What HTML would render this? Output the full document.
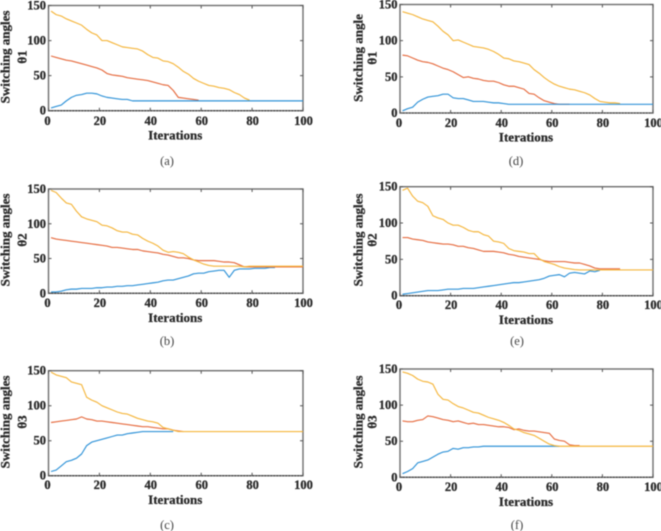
<!DOCTYPE html>
<html>
<head>
<meta charset="utf-8">
<title>Switching angles vs iterations</title>
<style>
html,body{margin:0;padding:0;background:#fff;width:661px;height:531px;overflow:hidden}
svg{display:block;position:absolute;left:0;top:0;filter:blur(0.4px)}
text{font-family:"Liberation Serif","DejaVu Serif",serif}
.tick{font-size:12.5px;font-weight:bold;fill:#2a2a2a;stroke:#2a2a2a;stroke-width:.3px}
.label{font-size:13px;font-weight:bold;fill:#2a2a2a;stroke:#2a2a2a;stroke-width:.3px}
.cap{font-size:12.5px;fill:#444}
</style>
</head>
<body>
<svg id="figure" width="661" height="531" viewBox="0 0 661 531" xmlns="http://www.w3.org/2000/svg"></svg>
<script>
const iterations = [1,3,5,7,9,11,13,15,17,19,21,23,25,27,29,31,33,35,37,39,41,43,45,47,49,51,53,55,57,59,61,63,65,67,69,71,73,75,77,79,81,83,85,87,89,91,93,95,97,99,100];
const xTicks = [0,20,40,60,80,100];
const yTicks = [0,50,100,150];

const aBlue = [4,6,8,14,19,22,23,25,25,24,21,19,18,17,16,16,14,14,14,14,14,14,14,14,14,14,14,14,14,14,14,14,14,14,14,14,14,14,14,14,14,14,14,14,14,14,14,14,14,14,14];
const aRed = [78,76,74,72,71,69,67,65,63,61,58,53,51,50,49,47,46,45,44,43,41,39,37,36,29,19,18,17,16,15];
const aYellow = [142,137,135,131,128,125,122,116,111,108,100,100,97,94,91,90,89,88,85,80,76,75,71,70,67,62,56,52,46,42,39,36,35,33,32,30,26,23,18,15];

const dBlue = [3,6,8,15,19,22,23,24,26,26,21,20,20,18,16,16,16,15,14,14,13,12,12,12,12,12,12,12,12,12,12,12,12,12,12,12,12,12,12,12,12,12,12,12,12,12,12,12,12,12,12];
const dRed = [80,79,76,73,71,70,68,65,62,60,57,53,49,50,48,47,45,44,44,42,39,37,37,35,33,27,26,21,17,15,13,12,12,12];
const dYellow = [140,138,136,133,130,128,126,120,113,108,100,101,98,95,92,91,90,88,85,81,76,75,72,71,69,67,60,55,49,44,40,37,35,33,32,30,28,25,20,16,15,14,14,13];

const bBlue = [2,2,3,5,6,6,7,7,7,8,8,9,9,10,10,11,11,12,13,14,15,16,18,19,19,21,23,25,28,29,29,31,32,33,33,23,33,35,35,35,36,36,36,37,37];
const bRed = [80,78,77,76,75,74,73,72,71,70,69,68,66,66,65,64,63,63,61,60,59,58,56,55,53,51,51,50,48,47,47,47,47,46,45,45,44,41,38,38,38,38,38,38,38,38,38,38,38,38,38];
const bYellow = [148,145,137,130,128,118,110,107,105,103,98,97,94,90,88,88,85,84,79,75,72,68,62,59,60,59,57,52,48,45,42,40,39,39,39,39,39,39,38,39,39,39,39,39,39,39,39,39,39,39,39];

const eBlue = [2,3,4,5,6,7,7,7,8,9,9,9,10,10,10,11,12,13,14,15,16,17,18,18,19,20,21,22,24,27,28,29,26,31,32,31,30,34,33,35];
const eRed = [80,80,78,77,76,74,73,72,71,71,70,68,68,66,65,63,61,61,61,60,59,57,56,54,53,52,51,50,48,47,47,47,47,46,45,45,43,41,38,37,37,37,37,37];
const eYellow = [145,148,137,130,128,123,110,107,105,100,97,97,94,90,88,88,84,82,75,74,72,65,62,61,60,58,58,51,47,45,43,40,38,37,36,35.5,35.5,35.5,35.5,35.5,35.5,35.5,35.5,35.5,35.5,35.5,35.5,35.5,35.5,35.5,35.5];

const cBlue = [6,8,14,20,22,25,31,43,48,50,52,54,56,58,58,60,61,62,63,63,63,63,63,63,63];
const cRed = [76,77,78,79,80,81,84,81,80,78,78,77,76,75,74,73,72,71,70,70,69,68,67,67,65,64,63];
const cYellow = [148,144,142,140,134,132,130,112,108,105,100,97,94,91,89,88,85,82,80,78,77,75,69,67,65,63,63,63,63,63,63,63,63,63,63,63,63,63,63,63,63,63,63,63,63,63,63,63,63,63,63];

const fBlue = [5,8,12,20,22,24,28,32,35,36,40,39,41,41,42,42,43,43,43,43,43,43,43,43,43,43,43,43,43,43,43,43];
const fRed = [78,77,77,79,80,85,84,82,80,79,77,78,76,74,75,73,73,72,71,70,70,69,66,67,65,64,64,63,62,61,53,51,50,45,44,44];
const fYellow = [146,144,141,136,133,132,129,115,108,107,102,98,96,93,90,89,86,83,81,79,76,72,67,65,62,60,58,54,50,46,44,43,43,43,43,43,43,43,43,43,43,43,43,43,43,43,43,43,43,43,43];

const BLUE = '#3093d8', RED = '#e66c40', YELLOW = '#f5b63c';
const NS = 'http://www.w3.org/2000/svg';
const root = document.getElementById('figure');

function make(tag, attrs, parent, txt) {
  const el = document.createElementNS(NS, tag);
  for (const k in attrs) el.setAttribute(k, attrs[k]);
  if (txt !== undefined) el.textContent = txt;
  parent.appendChild(el);
  return el;
}

const panels = [
  {id:'a', x0:48.5, x1:303, top:5.5,  bottom:110.7, ylab:['Switching angles','θ1'], lx:[5,22],   ly:57,  tickY:121, titleY:135.5, capX:167, capY:161, series:[[aYellow,YELLOW],[aRed,RED],[aBlue,BLUE]]},
  {id:'d', x0:400,  x1:653, top:4.5,  bottom:113,   ylab:['Switching angle','θ1'],  lx:[358,372],ly:58,  tickY:123, titleY:137.5, capX:516, capY:161, series:[[dYellow,YELLOW],[dRed,RED],[dBlue,BLUE]]},
  {id:'b', x0:48.5, x1:303, top:189,  bottom:293.3, ylab:['Switching angles','θ2'], lx:[5,22],   ly:240, tickY:303, titleY:318,   capX:167, capY:341, series:[[bBlue,BLUE],[bRed,RED],[bYellow,YELLOW]]},
  {id:'e', x0:400,  x1:653, top:186.7,bottom:295.7, ylab:['Switching angles','θ2'], lx:[358,372],ly:240, tickY:305, titleY:320,   capX:517, capY:341, series:[[eBlue,BLUE],[eRed,RED],[eYellow,YELLOW]]},
  {id:'c', x0:48.5, x1:303, top:370.7,bottom:475.7, ylab:['Switching angles','θ3'], lx:[5,22],   ly:422, tickY:485, titleY:500,   capX:167, capY:525, series:[[cBlue,BLUE],[cRed,RED],[cYellow,YELLOW]]},
  {id:'f', x0:400,  x1:653, top:369,  bottom:477.3, ylab:['Switching angles','θ3'], lx:[358,372],ly:422, tickY:487, titleY:502,   capX:517, capY:525, series:[[fBlue,BLUE],[fRed,RED],[fYellow,YELLOW]]}
];

panels.forEach(function (p) {
  const xScale = function (v) { return p.x0 + (p.x1 - p.x0) * v / 100; };
  const yScale = function (v) { return p.bottom - (p.bottom - p.top) * v / 150; };

  const g = make('g', {}, root);
  
  

  const box = make('rect', {x:p.x0, y:p.top, width:p.x1 - p.x0, height:p.bottom - p.top, fill:'#fff', stroke:'#6e6e6e', 'stroke-width':1.4}, g);
  
  

  const base = make('line', {x1:p.x0, x2:p.x1, y1:p.bottom, y2:p.bottom, stroke:'#333', 'stroke-width':1, 'stroke-dasharray':'1.5 1.5'}, g);
  
  

  xTicks.forEach(function (v) {
    const x = xScale(v);
    make('path', {d:'M' + x + ' ' + p.bottom + 'v-3M' + x + ' ' + p.top + 'v3', stroke:'#555', 'stroke-width':1, fill:'none'}, g);
    const t = make('text', {x:x + (v === 0 ? -1 : 0.5), y:p.tickY + 4, 'text-anchor':'middle', class:'tick'}, g, String(v));
    
    
  });

  yTicks.forEach(function (v) {
    const y = yScale(v);
    make('path', {d:'M' + p.x0 + ' ' + y + 'h3M' + p.x1 + ' ' + y + 'h-3', stroke:'#555', 'stroke-width':1, fill:'none'}, g);
    const t = make('text', {x:p.x0 - 2.5, y:y + 4, 'text-anchor':'end', class:'tick'}, g, String(v));
    
    
  });

  p.series.forEach(function (s) {
    const values = s[0];
    const pts = values.map(function (v, i) { return xScale(iterations[i]).toFixed(2) + ',' + yScale(v).toFixed(2); }).join(' ');
    const line = make('polyline', {points:pts, fill:'none', stroke:s[1], 'stroke-width':1.15, 'stroke-linejoin':'round'}, g);
    
    
  });

  p.ylab.forEach(function (txt, i) {
    const lab = make('text', {x:p.lx[i], y:p.ly, transform:'rotate(-90 ' + p.lx[i] + ' ' + p.ly + ')', 'text-anchor':'middle', 'dominant-baseline':'central', class:'label'}, g, txt);
    
    
  });

  const xt = make('text', {x:(p.x0 + p.x1) / 2 - 0.5, y:p.titleY + 4, 'text-anchor':'middle', class:'label'}, g, 'Iterations');
  
  

  const cap = make('text', {x:p.capX, y:p.capY + 4, 'text-anchor':'middle', class:'cap'}, g, '(' + p.id + ')');
  
  
});
</script>
</body>
</html>
